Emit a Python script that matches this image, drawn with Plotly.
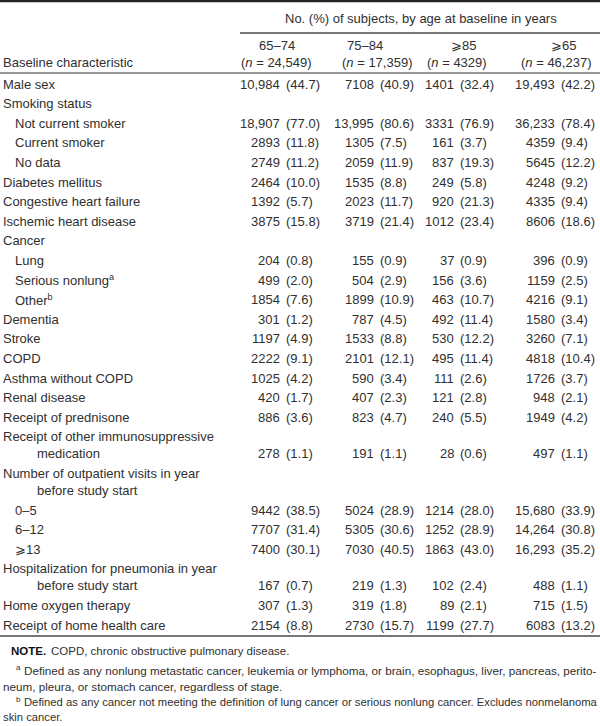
import plotly.graph_objects as go

# ---------------- data ----------------
labels = [
    "Male sex", "Smoking status", "Not current smoker", "Current smoker", "No data",
    "Diabetes mellitus", "Congestive heart failure", "Ischemic heart disease", "Cancer",
    "Lung", "Serious nonlung<sup>a</sup>", "Other<sup>b</sup>", "Dementia", "Stroke", "COPD",
    "Asthma without COPD", "Renal disease", "Receipt of prednisone",
    "Receipt of other immunosuppressive|medication",
    "Number of outpatient visits in year|before study start",
    "0–5", "6–12", "⩾13",
    "Hospitalization for pneumonia in year|before study start",
    "Home oxygen therapy", "Receipt of home health care",
]
indent = [0, 0, 1, 1, 1, 0, 0, 0, 0, 1, 1, 1, 0, 0, 0, 0, 0, 0, 0, 0, 1, 1, 1, 0, 0, 0]

col_heads = ["65–74", "75–84", "⩾85", "⩾65"]
col_n = ["24,549", "17,359", "4329", "46,237"]

counts_65_74 = [10984, None, 18907, 2893, 2749, 2464, 1392, 3875, None, 204, 499, 1854, 301, 1197,
                2222, 1025, 420, 886, 278, None, 9442, 7707, 7400, 167, 307, 2154]
pct_65_74 = [44.7, None, 77.0, 11.8, 11.2, 10.0, 5.7, 15.8, None, 0.8, 2.0, 7.6, 1.2, 4.9,
             9.1, 4.2, 1.7, 3.6, 1.1, None, 38.5, 31.4, 30.1, 0.7, 1.3, 8.8]
counts_75_84 = [7108, None, 13995, 1305, 2059, 1535, 2023, 3719, None, 155, 504, 1899, 787, 1533,
                2101, 590, 407, 823, 191, None, 5024, 5305, 7030, 219, 319, 2730]
pct_75_84 = [40.9, None, 80.6, 7.5, 11.9, 8.8, 11.7, 21.4, None, 0.9, 2.9, 10.9, 4.5, 8.8,
             12.1, 3.4, 2.3, 4.7, 1.1, None, 28.9, 30.6, 40.5, 1.3, 1.8, 15.7]
counts_85 = [1401, None, 3331, 161, 837, 249, 920, 1012, None, 37, 156, 463, 492, 530,
             495, 111, 121, 240, 28, None, 1214, 1252, 1863, 102, 89, 1199]
pct_85 = [32.4, None, 76.9, 3.7, 19.3, 5.8, 21.3, 23.4, None, 0.9, 3.6, 10.7, 11.4, 12.2,
          11.4, 2.6, 2.8, 5.5, 0.6, None, 28.0, 28.9, 43.0, 2.4, 2.1, 27.7]
counts_65 = [19493, None, 36233, 4359, 5645, 4248, 4335, 8606, None, 396, 1159, 4216, 1580, 3260,
             4818, 1726, 948, 1949, 497, None, 15680, 14264, 16293, 488, 715, 6083]
pct_65 = [42.2, None, 78.4, 9.4, 12.2, 9.2, 9.4, 18.6, None, 0.9, 2.5, 9.1, 3.4, 7.1,
          10.4, 3.7, 2.1, 4.2, 1.1, None, 33.9, 30.8, 35.2, 1.1, 1.5, 13.2]

title_text = "No. (%) of subjects, by age at baseline in years"
stub_head = "Baseline characteristic"
note_head = "<b>NOTE.</b>"
note_copd = "COPD, chronic obstructive pulmonary disease."
note_a = ["Defined as any nonlung metastatic cancer, leukemia or lymphoma, or brain, esophagus, liver, pancreas, perito-",
          "neum, pleura, or stomach cancer, regardless of stage."]
note_b = ["Defined as any cancer not meeting the definition of lung cancer or serious nonlung cancer. Excludes nonmelanoma",
          "skin cancer."]

# ---------------- layout constants ----------------
W, H = 600, 726
FONT = "Liberation Sans"
TXT = "#303030"
FS = 13
count_right = [281, 375, 455, 556]
head_center = [277, 365, 463, 563]
n_center = [276, 377, 457, 556]
ROW_START, ROW_STEP, WRAP_STEP = 84, 19.6, 17

def fmt_count(v):
    return f"{v:,}" if v >= 10000 else str(v)

fig = go.Figure()
fig.add_trace(go.Scatter(x=[0, W], y=[0, H], mode="markers", marker=dict(opacity=0), hoverinfo="skip"))

ann = []
def add(text, x, y, xa="left", size=FS, color=TXT):
    ann.append(dict(text=text, x=x, y=y, xref="x", yref="y", xanchor=xa, yanchor="middle",
                    showarrow=False, borderpad=0, font=dict(family=FONT, size=size, color=color)))

# header
add(title_text, 421, 18, "center")
for i in range(4):
    add(col_heads[i], head_center[i], 45, "center")
    add(f"(<i>n</i> = {col_n[i]})", n_center[i], 62, "center")
add(stub_head, 2, 62)

cols = [(counts_65_74, pct_65_74), (counts_75_84, pct_75_84), (counts_85, pct_85), (counts_65, pct_65)]

y = ROW_START
for r, lab in enumerate(labels):
    if r > 0:
        y += ROW_STEP
    parts = lab.split("|")
    add(parts[0], 14 if indent[r] else 2, y)
    for p in parts[1:]:
        y += WRAP_STEP
        add(p, 36, y)
    for ci, (cnt, pct) in enumerate(cols):
        if cnt[r] is not None:
            add(fmt_count(cnt[r]), count_right[ci], y, "right")
            add(f"({pct[r]:.1f})", count_right[ci] + 4, y, "left")

last_y = y
# notes
add(note_head, 10, 651, size=11.5, color="#111")
add(note_copd, 50, 651, size=11.5)
add("a", 15, 667, size=8)
add(note_a[0], 23, 670, size=11.7)
add(note_a[1], 2, 686, size=11.7)
add("b", 15, 699, size=8)
add(note_b[0], 23, 702, size=11.25)
add(note_b[1], 2, 717, size=11.25)

shapes = [
    dict(type="line", x0=0, x1=W, y0=1, y1=1, xref="x", yref="y", line=dict(color="#222", width=2.5)),
    dict(type="line", x0=240, x1=W, y0=33, y1=33, xref="x", yref="y", line=dict(color="#777", width=2)),
    dict(type="line", x0=0, x1=W, y0=73, y1=73, xref="x", yref="y", line=dict(color="#777", width=1.5)),
    dict(type="line", x0=0, x1=W, y0=last_y + 11, y1=last_y + 11, xref="x", yref="y", line=dict(color="#777", width=2)),
]

fig.update_layout(
    width=W, height=H, margin=dict(l=0, r=0, t=0, b=0),
    paper_bgcolor="white", plot_bgcolor="white", showlegend=False,
    xaxis=dict(range=[0, W], visible=False, fixedrange=True),
    yaxis=dict(range=[H, 0], visible=False, fixedrange=True),
    annotations=ann, shapes=shapes,
)
fig.write_html("out.html", config={"displayModeBar": False, "staticPlot": True},
               post_script="document.body.style.margin='0';document.body.style.overflow='hidden';")
